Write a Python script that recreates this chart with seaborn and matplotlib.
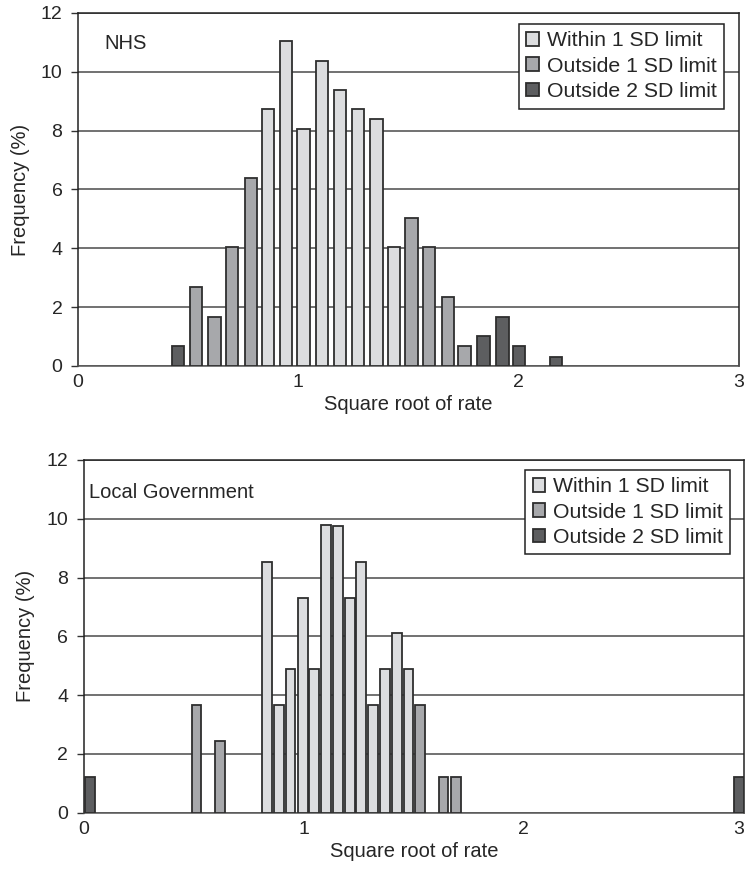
import numpy as np
import pandas as pd
import matplotlib
matplotlib.use("Agg")
import matplotlib.pyplot as plt
import seaborn as sns

# ---------------- data ----------------
groups = ["Within 1 SD limit", "Outside 1 SD limit", "Outside 2 SD limit"]

nhs_x = [0.455, 0.537, 0.620, 0.701, 0.785, 0.862, 0.944, 1.025, 1.108, 1.190,
         1.272, 1.356, 1.436, 1.514, 1.595, 1.679, 1.755, 1.841, 1.927, 2.003, 2.170]
nhs_freq = [0.68, 2.70, 1.68, 4.03, 6.38, 8.72, 11.05, 8.05, 10.38, 9.38,
            8.72, 8.40, 4.03, 5.03, 4.03, 2.36, 0.68, 1.02, 1.66, 0.68, 0.32]
nhs_group = [2, 1, 1, 1, 1, 0, 0, 0, 0, 0,
             0, 0, 0, 1, 1, 1, 1, 2, 2, 2, 2]

lg_x = [0.031, 0.513, 0.619, 0.833, 0.887, 0.940, 0.995, 1.048, 1.101, 1.156,
        1.209, 1.261, 1.314, 1.369, 1.423, 1.476, 1.530, 1.635, 1.692, 2.977]
lg_freq = [1.22, 3.66, 2.44, 8.54, 3.66, 4.88, 7.32, 4.88, 9.80, 9.76,
           7.32, 8.54, 3.66, 4.88, 6.10, 4.88, 3.66, 1.22, 1.22, 1.22]
lg_group = [2, 1, 1, 0, 0, 0, 0, 0, 0, 0,
            0, 0, 0, 0, 0, 0, 1, 1, 1, 2]

panel_titles = ["NHS", "Local Government"]
x_label = "Square root of rate"
y_label = "Frequency (%)"
x_ticks = [0, 1, 2, 3]
y_ticks = [0, 2, 4, 6, 8, 10, 12]

# ---------------- style ----------------
sns.set_theme(style="white")
plt.rcParams["font.family"] = ["Liberation Sans", "DejaVu Sans"]

palette = {groups[0]: "#dcdddf", groups[1]: "#a7a8ab", groups[2]: "#5d5e60"}
edge = "#2e2e2e"

fig = plt.figure(figsize=(7.45, 8.71), dpi=100)
ax1 = fig.add_axes([0.1043, 0.5798, 0.8877, 0.4053])
ax2 = fig.add_axes([0.1121, 0.0669, 0.8866, 0.4050])


def draw(ax, xs, ys, gs, title, bar_w, title_pos, leg_anchor, last_right):
    df = pd.DataFrame({"x": xs, "freq": ys,
                       "group": [groups[g] for g in gs]})
    mind = np.min(np.diff(np.sort(np.asarray(xs))))
    sns.barplot(data=df, x="x", y="freq", hue="group", hue_order=groups,
                palette=palette, native_scale=True, dodge=False,
                width=bar_w / mind, errorbar=None, edgecolor=edge,
                linewidth=1.3, saturation=1, ax=ax, zorder=3)
    ax.set_xlim(0, 3)
    ax.set_ylim(0, 12)
    ax.set_xticks(x_ticks)
    ax.set_xticklabels([str(t) for t in x_ticks])
    if last_right:
        ax.get_xticklabels()[-1].set_horizontalalignment("right")
    ax.set_yticks(y_ticks)
    ax.set_yticklabels([str(t) for t in y_ticks])
    ax.yaxis.grid(True, color="#4a4a4a", linewidth=1.1)
    ax.xaxis.grid(False)
    ax.set_axisbelow(True)
    ax.tick_params(axis="y", length=5, width=1, color="#333333",
                   labelsize=14, pad=6, left=True)
    ax.tick_params(axis="x", length=0, labelsize=14, pad=6)
    for s in ax.spines.values():
        s.set_color("#222222")
        s.set_linewidth(1.1)
    ax.spines["bottom"].set_color("#555555")
    ax.set_xlabel(x_label, fontsize=14.5, labelpad=3)
    ax.set_ylabel(y_label, fontsize=14.5, labelpad=8)
    ax.text(title_pos[0], title_pos[1], title, transform=ax.transAxes,
            fontsize=14.5, ha="left", va="center")
    handles, labels = ax.get_legend_handles_labels()
    if ax.get_legend() is not None:
        ax.get_legend().remove()
    leg = ax.legend(handles, labels, loc="upper right",
                    bbox_to_anchor=leg_anchor, fontsize=15.3,
                    frameon=True, fancybox=False, framealpha=1,
                    edgecolor="#222222", handlelength=0.6,
                    handleheight=0.6, handletextpad=0.35,
                    labelspacing=0.3, borderpad=0.35, borderaxespad=0)
    leg.get_frame().set_linewidth(1.1)
    leg.set_zorder(5)


draw(ax1, nhs_x, nhs_freq, nhs_group, panel_titles[0], 0.056,
     (0.04, 0.913), (0.977, 0.969), False)
draw(ax2, lg_x, lg_freq, lg_group, panel_titles[1], 0.045,
     (0.008, 0.908), (0.979, 0.972), True)

fig.savefig("out.png", dpi=100)
